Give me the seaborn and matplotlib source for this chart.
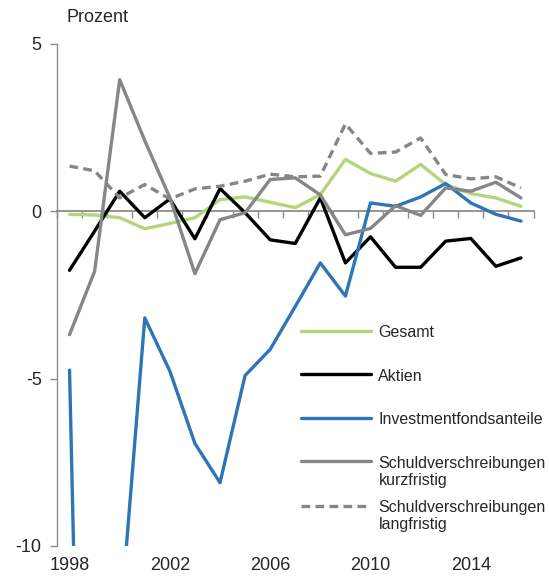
import numpy as np
import pandas as pd
import matplotlib
matplotlib.use('Agg')
import matplotlib.pyplot as plt
import seaborn as sns

# -------------------------------
# Data (Prozent)
# -------------------------------
years = list(range(1998, 2017))

gesamt = [-0.10, -0.12, -0.20, -0.53, -0.37, -0.20, 0.34, 0.42, 0.26, 0.10,
          0.49, 1.54, 1.12, 0.89, 1.39, 0.79, 0.52, 0.39, 0.14]
aktien = [-1.77, -0.60, 0.59, -0.20, 0.36, -0.83, 0.67, -0.05, -0.86, -0.97,
          0.39, -1.55, -0.77, -1.68, -1.68, -0.90, -0.82, -1.65, -1.40]
investment = [-4.75, -37.6, -12.5, -3.19, -4.78, -6.94, -8.11, -4.91, -4.13, -2.85,
              -1.55, -2.54, 0.24, 0.14, 0.42, 0.82, 0.24, -0.10, -0.30]
schuld_kurz = [-3.69, -1.80, 3.92, 2.10, 0.40, -1.87, -0.26, -0.05, 0.94, 0.99,
               0.48, -0.71, -0.52, 0.16, -0.13, 0.69, 0.59, 0.86, 0.39]
schuld_lang = [1.34, 1.20, 0.39, 0.79, 0.36, 0.66, 0.74, 0.89, 1.10, 1.02,
               1.04, 2.60, 1.72, 1.76, 2.18, 1.09, 0.96, 1.02, 0.69]

labels = ["Gesamt", "Aktien", "Investmentfondsanteile",
          "Schuldverschreibungen\nkurzfristig",
          "Schuldverschreibungen\nlangfristig"]
series = [gesamt, aktien, investment, schuld_kurz, schuld_lang]
colors = ["#B5D47C", "#000000", "#2E75B6", "#868686", "#868686"]
styles = ["-", "-", "-", "-", (0, (2.6, 1.6))]

tick_years = [1998, 2002, 2006, 2010, 2014]
y_ticks = [-10, -5, 0, 5]

# -------------------------------
# Style
# -------------------------------
sns.set_style("white")
plt.rcParams['font.family'] = ['Liberation Sans', 'DejaVu Sans']
plt.rcParams['axes.unicode_minus'] = False

W, H = 549, 576
fig = plt.figure(figsize=(W / 100, H / 100), dpi=100)
ax = fig.add_axes([57 / W, 1 - 546 / H, (533.5 - 57) / W, (546 - 43.5) / H])

df = pd.DataFrame({"Jahr": years})
for lab, vals, col, ls in zip(labels, series, colors, styles):
    df["v"] = vals
    sns.lineplot(data=df, x="Jahr", y="v", ax=ax, color=col, linewidth=2.4,
                 linestyle=ls, label=lab)

ax.set_xlim(1997.5, 2016.5)
ax.set_ylim(-10, 5)
ax.set_xlabel("")
ax.set_ylabel("")

# spines
for s in ["top", "right", "bottom"]:
    ax.spines[s].set_visible(False)
ax.spines["left"].set_color("#8c8c8c")
ax.spines["left"].set_linewidth(1.0)

# y axis
ax.set_yticks(y_ticks)
ax.set_yticklabels([str(v) for v in y_ticks])
ax.tick_params(axis="y", direction="out", length=5, width=1.0, color="#8c8c8c",
               labelsize=13, pad=6, left=True)

# x labels at bottom
ax.set_xticks(tick_years)
ax.set_xticklabels([str(y) for y in tick_years])
ax.tick_params(axis="x", length=0, labelsize=13, pad=8)

# zero line with category ticks
sec = ax.secondary_xaxis(2 / 3)
sec.set_xticks(np.arange(1997.5, 2017, 1.0))
sec.tick_params(direction="in", length=5, width=1.0, color="#8c8c8c",
                labeltop=False, labelbottom=False)
for s in sec.spines.values():
    s.set_color("#8c8c8c")
    s.set_linewidth(1.3)

fig.text(66 / W, 1 - 18 / H, "Prozent", fontsize=13, va="center", ha="left")

# -------------------------------
# Legend (two blocks so the two-line entries sit like the original)
# -------------------------------
handles, labs = ax.get_legend_handles_labels()
leg_kw = dict(loc="upper left", bbox_transform=fig.transFigure, frameon=False,
              fontsize=11.5, handlelength=4.4, handletextpad=0.45,
              labelspacing=1.79, borderpad=0, borderaxespad=0)


def handles_to_top(leg):
    # put the line next to the first text line for multi-line labels
    for col in leg._legend_handle_box.get_children():
        for row in col.get_children():
            row.align = "top"


leg1 = ax.legend(handles[:4], labs[:4], bbox_to_anchor=(301 / W, 1 - 325 / H), **leg_kw)
handles_to_top(leg1)
ax.add_artist(leg1)
leg2 = ax.legend(handles[4:], labs[4:], bbox_to_anchor=(301 / W, 1 - 500 / H), **leg_kw)
handles_to_top(leg2)

fig.savefig("out.png", dpi=100)
